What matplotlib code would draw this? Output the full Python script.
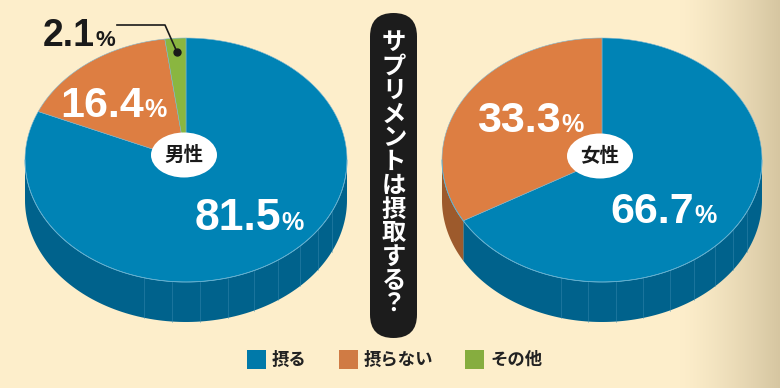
import numpy as np
import matplotlib
matplotlib.use('Agg')
import matplotlib.pyplot as plt
from matplotlib.patches import Polygon, Ellipse, Rectangle, FancyBboxPatch
from matplotlib.colors import to_rgb

# data
categories = ['摂る', '摂らない', 'その他']
male = [81.5, 16.4, 2.1]
female = [66.7, 33.3, 0.0]
pie_names = ['男性', '女性']
title_text = 'サプリメントは摂取する？'

top_colors = ['#0083b5', '#dd7e42', '#8ab640']
side_colors = ['#00628c', '#9d5a2c', '#5f8a2a']
legend_colors = ['#0079a9', '#d07b44', '#86ad3f']

BG = '#fdeecb'
NUM_FONT = ['Liberation Sans', 'DejaVu Sans']
JP_FONT = ['Noto Sans CJK JP', 'DejaVu Sans']

fig = plt.figure(figsize=(7.8, 3.88), dpi=100)
ax = fig.add_axes([0, 0, 1, 1])

# background with darker right edge
cols = np.linspace(0, 780, 780)
t = np.clip((cols - 680) / 100, 0, 1) ** 1.3
c0, c1 = np.array(to_rgb(BG)), np.array(to_rgb('#d6c6a1'))
grad = c0[None, :] * (1 - t[:, None]) + c1[None, :] * t[:, None]
ax.imshow(grad[None, :, :], extent=[0, 780, 388, 0], aspect='auto', zorder=0)
ax.set_xlim(0, 780)
ax.set_ylim(388, 0)
ax.axis('off')


def draw_pie(cx, cy, a, b, depth, values):
    total = sum(values)
    start = 90.0
    wedges = []
    # clockwise from 12 o'clock
    for v, tc, sc in zip(values, top_colors, side_colors):
        if v <= 0:
            continue
        end = start - 360.0 * v / total
        wedges.append((end, start, tc, sc))
        start = end
    # sides (front half only)
    for lo0, hi0, tc, sc in wedges:
        for k in range(-2, 2):
            lo, hi = max(lo0, 180 + 360 * k), min(hi0, 360 + 360 * k)
            if hi <= lo:
                continue
            th = np.radians(np.linspace(lo, hi, 120))
            xs = cx + a * np.cos(th)
            ys = cy - b * np.sin(th)
            pts = np.vstack([np.column_stack([xs, ys]),
                             np.column_stack([xs[::-1], ys[::-1] + depth])])
            ax.add_patch(Polygon(pts, closed=True, fc=sc, ec='none', zorder=2))
    # facet lines on the side
    for ang in range(255, 345, 10):
        th = np.radians(ang)
        x = cx + a * np.cos(th)
        y = cy - b * np.sin(th)
        ax.plot([x, x], [y, y + depth], color='#3f8fb4', lw=0.5, alpha=0.6, zorder=3)
    # top wedges
    for lo, hi, tc, sc in wedges:
        th = np.radians(np.linspace(lo, hi, 200))
        xs = np.concatenate([[cx], cx + a * np.cos(th)])
        ys = np.concatenate([[cy], cy - b * np.sin(th)])
        ax.add_patch(Polygon(np.column_stack([xs, ys]), closed=True, fc=tc,
                             ec='#7fb6cf', lw=0.4, zorder=4))
    th = np.radians(np.linspace(180, 360, 200))
    ax.plot(cx + a * np.cos(th), cy - b * np.sin(th), color='#5fb0d2', lw=0.6, zorder=5)


draw_pie(186, 160, 161, 122, 40, male)
draw_pie(602, 160, 160, 122, 40, female)


def pct(x, y, val, size, psize, color='white'):
    ax.text(x, y, f'{val:.1f}', ha='right', va='baseline', fontsize=size,
            fontweight='bold', color=color, family=NUM_FONT, zorder=8)
    ax.text(x, y, '%', ha='left', va='baseline', fontsize=psize,
            fontweight='bold', color=color, family=NUM_FONT, zorder=8)


pct(281, 230, male[0], 32, 18)
pct(144, 117, male[1], 31, 18)
pct(95, 46, male[2], 27, 16, color='#1a1a1a')
pct(561, 132, female[1], 31, 18)
pct(694, 223, female[0], 31, 18)

# leader line for the small slice
ax.plot([117, 165, 177], [25, 25, 52], color='#1a1a1a', lw=1.2, zorder=7)
ax.plot([177], [52], 'o', color='#1a1a1a', ms=5, zorder=7)

# name bubbles
for (ex, ey), name in zip([(184, 155), (600, 156)], pie_names):
    ax.add_patch(Ellipse((ex, ey), 66, 45, fc='white', ec='none', zorder=9))
    ax.text(ex, ey, name, ha='center', va='center', fontsize=14, fontweight='bold',
            color='#1a1a1a', family=JP_FONT, zorder=10)

# vertical title pill
ax.add_patch(FancyBboxPatch((370, 13), 47, 325,
                            boxstyle='round,pad=0,rounding_size=23.5',
                            fc='#1c1c1c', ec='none', zorder=6))
for i, ch in enumerate(title_text):
    ax.text(394, 43 + i * 23.8, ch, ha='center', va='center', fontsize=17.5,
            fontweight='bold', color='white', family=JP_FONT, zorder=7)

# legend
leg_x = [247, 339, 465]
for x, c, lab in zip(leg_x, legend_colors, categories):
    ax.add_patch(Rectangle((x, 350), 19, 19, fc=c, ec='none', zorder=8))
    ax.text(x + 25, 360, lab, ha='left', va='center', fontsize=12.5,
            fontweight='bold', color='#222222', family=JP_FONT, zorder=8)

fig.savefig('out.png', dpi=100)
